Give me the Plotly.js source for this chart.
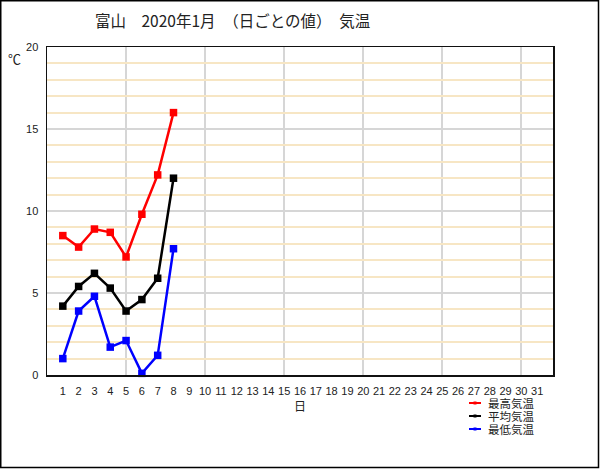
<!DOCTYPE html>
<html>
<head>
<meta charset="utf-8">
<script src="https://cdn.plot.ly/plotly-3.0.1.min.js"></script>
<style>
html,body{margin:0;padding:0;background:#fff;}
#chart{width:600px;height:469px;}
</style>
</head>
<body>
<div id="chart"></div>
<script>
// Data (Toyama, January 2020, daily temperatures)
const days = [1, 2, 3, 4, 5, 6, 7, 8];
const maxTemp = [8.5, 7.8, 8.9, 8.7, 7.2, 9.8, 12.2, 16.0];
const avgTemp = [4.2, 5.4, 6.2, 5.3, 3.9, 4.6, 5.9, 12.0];
const minTemp = [1.0, 3.9, 4.8, 1.7, 2.1, 0.1, 1.2, 7.7];
const seriesNames = ['最高気温', '平均気温', '最低気温'];
const seriesColors = ['#ff0000', '#000000', '#0000ff'];
const dayTicks = Array.from({length: 31}, (_, i) => i + 1);
const dayTickLabels = dayTicks.map(String);

const series = [maxTemp, avgTemp, minTemp];
const traces = series.map((vals, i) => ({
  x: days,
  y: vals,
  name: seriesNames[i],
  type: 'scatter',
  mode: 'lines+markers',
  line: {color: seriesColors[i], width: 2.5},
  marker: {color: seriesColors[i], symbol: 'square', size: 7.5},
  cliponaxis: false,
  showlegend: false
}));

const W = 600, H = 469;
const mL = 47, mR = 47, mT = 47, mB = 94;
const pw = W - mL - mR, ph = H - mT - mB;
const px = v => (v - mL) / pw;
const py = v => (H - mB - v) / ph;

// compact legend (key swatches + labels), drawn as decorations
const legendRowsY = [403, 416, 429];
const legendShapes = [];
const legendAnnots = [];
seriesNames.forEach((name, i) => {
  const yy = legendRowsY[i];
  legendShapes.push({
    type: 'line', xref: 'paper', yref: 'paper', layer: 'above',
    x0: px(469), x1: px(481), y0: py(yy), y1: py(yy),
    line: {color: seriesColors[i], width: 2}
  });
  legendShapes.push({
    type: 'rect', xref: 'paper', yref: 'paper', layer: 'above',
    x0: px(473.5), x1: px(476.5), y0: py(yy + 1.5), y1: py(yy - 1.5),
    line: {width: 0}, fillcolor: seriesColors[i]
  });
  legendAnnots.push({
    text: name, xref: 'paper', yref: 'paper',
    x: px(486), y: py(yy), xanchor: 'left', yanchor: 'middle',
    showarrow: false,
    font: {family: '"Noto Sans CJK JP", sans-serif', size: 11.5, color: '#222'}
  });
});

const layout = {
  width: W, height: H,
  margin: {l: mL, r: mR, t: mT, b: mB, pad: 0},
  paper_bgcolor: '#ffffff',
  plot_bgcolor: '#ffffff',
  font: {family: 'Liberation Sans, "Noto Sans CJK JP", sans-serif', size: 11, color: '#222'},
  title: {
    text: '富山　2020年1月　（日ごとの値）　気温',
    font: {family: '"Noto Sans CJK JP", sans-serif', size: 15.5, color: '#222'},
    xref: 'container', yref: 'container',
    x: 95 / W, xanchor: 'left',
    y: 1 - 22 / H, yanchor: 'middle'
  },
  showlegend: false,
  xaxis: {
    range: [0, 32],
    tickmode: 'array',
    tickvals: dayTicks,
    ticktext: dayTickLabels,
    ticks: '',
    showgrid: false,
    zeroline: false,
    showline: true, mirror: true, linecolor: '#111', linewidth: 1.5,
    tickfont: {size: 11, color: '#222'},
    ticklabelstandoff: 5,
    minor: {tickmode: 'array', tickvals: [5, 10, 15, 20, 25, 30], showgrid: true, gridcolor: '#d6d6d6', gridwidth: 2, ticks: ''},
    title: {text: '日', font: {family: '"Noto Sans CJK JP", sans-serif', size: 12, color: '#222'}, standoff: 5},
    fixedrange: true
  },
  yaxis: {
    range: [0, 20],
    tickmode: 'linear', tick0: 0, dtick: 5,
    ticks: '',
    showgrid: true, gridcolor: '#d6d6d6', gridwidth: 2,
    zeroline: false,
    showline: true, mirror: true, linecolor: '#111', linewidth: 1.5,
    tickfont: {size: 11, color: '#222'},
    ticklabelstandoff: 5,
    minor: {tickmode: 'linear', tick0: 0, dtick: 1, showgrid: true, gridcolor: '#f7e6c4', gridwidth: 2, ticks: ''},
    fixedrange: true
  },
  annotations: [{
    text: '℃', xref: 'paper', yref: 'paper',
    x: px(14), y: py(58), xanchor: 'center', yanchor: 'middle',
    showarrow: false,
    font: {family: '"Noto Sans CJK JP", sans-serif', size: 13, color: '#222'}
  }].concat(legendAnnots),
  shapes: [{
    type: 'rect', xref: 'paper', yref: 'paper', layer: 'above',
    x0: px(0.75), x1: px(598.5), y0: py(467.5), y1: py(0.75),
    line: {color: '#000', width: 1.5}, fillcolor: 'rgba(0,0,0,0)'
  }].concat(legendShapes)
};

Plotly.newPlot('chart', traces, layout, {displayModeBar: false, staticPlot: true});
</script>
</body>
</html>
